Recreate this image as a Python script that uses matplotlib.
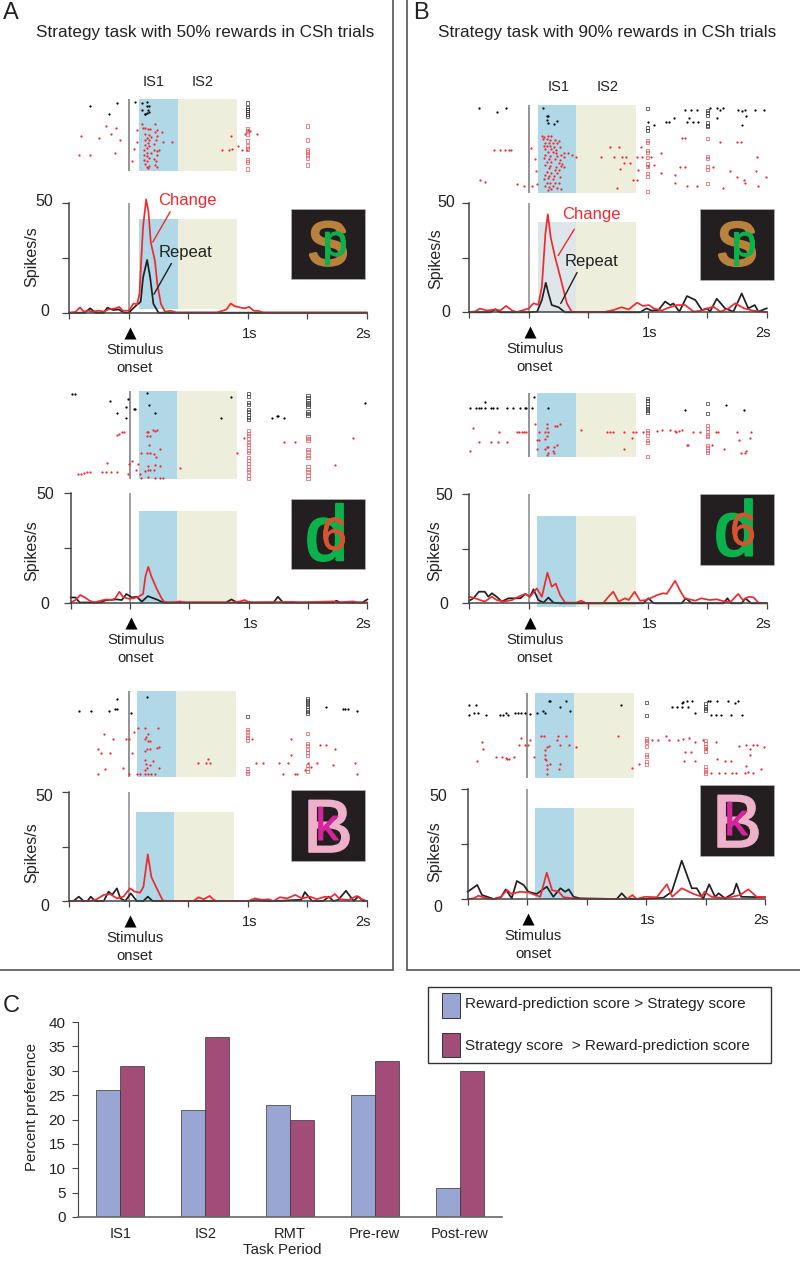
import matplotlib
matplotlib.use('Agg')
import matplotlib.patheffects as pe
import matplotlib.pyplot as plt
import numpy as np
from matplotlib.patches import Rectangle
from matplotlib.transforms import ScaledTranslation

plt.rcParams['font.family'] = ['Liberation Sans', 'DejaVu Sans']

# ---- PSTH curves (time in s, spikes/s)
a1_change = [(-.5,0),(-.45,.3),(-.41,2.4),(-.38,.5),(-.34,.9),(-.31,.5),(-.25,.9),(-.21,.5),(-.17,1.5),(-.11,2),(-.08,2.6),(-.05,.9),(0,.9),(.04,4.2),(.07,3.8),(.09,8.8),(.12,39),(.146,51.5),(.165,46),(.185,32),(.22,23.5),(.24,13),(.27,4),(.305,.4),(.35,.9),(.4,.1),(.74,.1),(.795,1),(.82,1.4),(.857,4.2),(.89,3),(.95,2.2),(.98,2),(1.01,2.7),(1.05,.9),(1.09,.8),(1.13,.1),(2,.1)]
a1_repeat = [(-.5,0),(-.37,0),(-.325,2),(-.28,0),(-.21,0),(-.18,2.3),(-.13,1.2),(-.085,1.5),(-.04,0),(0,0),(.05,2.7),(.1,5),(.12,16),(.154,24),(.18,16),(.207,4),(.25,0),(2,0)]
a2_change = [(-.5,.1),(-.46,1.2),(-.42,3.5),(-.38,2.4),(-.34,.9),(-.3,.1),(-.25,.9),(-.2,1.5),(-.155,1.2),(-.125,2),(-.09,5),(-.06,2.7),(-.014,1.8),(.03,2),(.07,2.7),(.11,4),(.13,12),(.154,16.4),(.18,12),(.224,6.5),(.266,2),(.294,.1),(.364,.1),(.42,.6),(.46,.1),(.87,.1),(.925,.6),(.966,1.2),(.994,.5),(1.03,.1),(1.37,.4),(1.43,.1),(1.71,.6),(1.75,.1),(1.88,.6),(1.92,.1),(2,.1)]
a2_repeat = [(-.5,2.4),(-.46,2.4),(-.425,.1),(-.25,.1),(-.2,1.2),(-.11,1.5),(-.07,1.2),(-.03,4),(.014,2.4),(.056,2.7),(.1,.5),(.15,3),(.224,1.5),(.28,.1),(.81,.1),(.855,1.5),(.9,.1),(1.21,.1),(1.246,2.7),(1.29,.1),(1.71,.1),(1.74,.9),(1.77,.1),(1.96,.1),(2,1.5)]
a3_change = [(-.5,0),(-.325,0),(-.27,.8),(-.21,2.8),(-.157,3.2),(-.1,1.2),(-.045,2),(.01,5.8),(.05,4.3),(.095,3.8),(.123,6.5),(.16,21.4),(.19,11),(.235,5.8),(.286,.2),(.32,0),(.544,0),(.585,1.7),(.63,.8),(.68,2.3),(.714,.5),(.74,0),(1.005,0),(1.06,1.2),(1.12,.5),(1.174,.8),(1.216,0),(1.27,1.7),(1.33,1.2),(1.4,2.8),(1.454,1.2),(1.525,2),(1.58,.8),(1.65,2),(1.69,1.5),(1.733,3.2),(1.775,.8),(1.85,.5),(1.916,2.3),(1.96,.8),(2,0)]
a3_repeat = [(-.5,0),(-.465,0),(-.42,2),(-.38,0),(-.347,0),(-.32,2),(-.283,0),(-.21,0),(-.17,4.3),(-.14,2.8),(-.1,5.8),(-.07,1.2),(-.03,0),(.017,3.5),(.067,0),(.123,0),(.16,2),(.2,0),(1.005,0),(1.08,.4),(1.13,0),(1.24,0),(1.41,.5),(1.45,.5),(1.48,4.1),(1.54,0),(1.636,0),(1.68,2),(1.72,0),(1.76,.5),(1.826,4.7),(1.89,0),(1.93,2),(1.97,0),(2,0)]
b1_change = [(-.5,.1),(-.45,.4),(-.41,1.7),(-.35,.8),(-.28,1.3),(-.24,.8),(-.19,2.9),(-.14,.8),(-.1,.1),(-.045,1),(0,1.8),(.04,4.1),(.08,3.4),(.11,11.7),(.14,36),(.16,44.7),(.185,34),(.22,25.4),(.265,16),(.32,4.1),(.36,.3),(.4,.1),(.63,.1),(.71,1),(.78,2.3),(.84,1.3),(.91,4.4),(.96,2.9),(1.01,3.3),(1.05,1.8),(1.12,.8),(1.16,1.8),(1.245,3.3),(1.315,3.3),(1.385,.3),(1.455,.8),(1.55,2.6),(1.61,.3),(1.68,1.8),(1.735,4.1),(1.81,1.8),(1.88,.8),(1.96,.3),(2,.1)]
b1_repeat = [(-.5,0),(-.325,0),(-.28,1.4),(-.24,0),(0,0),(.07,.3),(.11,5.6),(.143,13.5),(.165,8.7),(.193,3.3),(.25,2.3),(.305,0),(.375,0),(.935,0),(.99,1.8),(1.03,.8),(1.09,1),(1.146,4.9),(1.19,3.3),(1.216,4),(1.266,.3),(1.33,7.4),(1.4,5.6),(1.456,1),(1.5,1.8),(1.524,.3),(1.58,6.2),(1.65,1.8),(1.72,.3),(1.79,8.6),(1.845,1.8),(1.9,3.3),(1.93,.3),(2,1.8)]
b2_change = [(-.5,3),(-.45,2.3),(-.41,1.5),(-.37,.8),(-.31,3),(-.27,1.5),(-.21,.8),(-.14,1.5),(-.087,3),(-.03,4.3),(.01,3),(.067,6.8),(.11,3),(.157,14),(.193,7.6),(.227,9),(.263,3.8),(.305,.3),(.4,.3),(.44,1.2),(.485,0),(.625,0),(.67,3),(.71,5.3),(.755,.8),(.81,2.3),(.84,1.5),(.89,5.3),(.935,1.2),(.99,1.5),(1.08,3.8),(1.13,4.6),(1.16,4.3),(1.23,10.3),(1.27,6),(1.31,2.3),(1.4,1.2),(1.45,2.3),(1.52,1.5),(1.58,1.8),(1.65,.8),(1.7,.8),(1.76,4.3),(1.8,1.5),(1.85,3),(1.89,2.7),(1.93,.3),(2,0)]
b2_repeat = [(-.5,1.2),(-.465,2.3),(-.42,5.3),(-.37,5.3),(-.34,3),(-.31,4.6),(-.27,3),(-.227,.8),(-.17,2.3),(-.115,2.3),(-.07,2.3),(-.03,4.3),(.01,3),(.04,6.4),(.08,1.5),(.123,.3),(.165,2.6),(.207,.3),(.263,0),(.963,0),(1.005,2.3),(1.05,0),(1.285,0),(1.32,2.3),(1.37,0),(1.636,0),(1.67,2.3),(1.7,0),(1.79,0),(1.82,2.3),(1.87,0),(2,0)]
b3_change = [(-.5,0),(-.45,.3),(-.41,1.5),(-.34,.3),(-.28,0),(-.22,1),(-.17,4.1),(-.13,2.3),(-.06,3.3),(.01,3),(.11,1),(.165,12),(.21,4),(.265,3.3),(.305,.8),(.39,.3),(.47,0),(.84,0),(.885,1.8),(.92,0),(.99,1),(1.09,.8),(1.175,6.7),(1.22,1),(1.3,4.9),(1.4,2.3),(1.47,1),(1.49,3.3),(1.55,1),(1.665,.3),(1.79,1.8),(1.86,4.4),(1.93,1),(2,.8)]
b3_repeat = [(-.5,3.3),(-.42,6.4),(-.38,1.8),(-.28,0),(-.22,.8),(-.18,4.4),(-.13,.3),(-.087,8.2),(-.03,6.4),(.01,3.3),(.08,2.3),(.165,5.6),(.22,1),(.28,4.9),(.32,3.3),(.35,4.4),(.39,1),(.445,.3),(.753,0),(.795,2.6),(.84,0),(.978,0),(1.146,.6),(1.216,3.3),(1.3,17.5),(1.384,4.9),(1.426,4.9),(1.48,0),(1.53,6.7),(1.58,1),(1.61,2.6),(1.664,.3),(1.734,2.6),(1.76,7),(1.8,1),(2,.8)]

# ---- raster dots (time in s, trial row)
a1_black = [(-.325,7),(-.095,4),(-.17,15),(.05,3),(.115,4),(.15,3),(.15,7),(.17,7),(.11,11),(.165,11),(.14,15),(.155,14),(.17,13),(.137,15)]
a1_red = [(-.19,27),(-.11,29),(-.15,35),(-.4,37),(-.25,39),(-.07,41),(.07,31),(.11,25),(.22,25),(.07,43),(.04,50),(-.12,54),(-.42,56),(-.33,56),(.03,62),
          (.12,29),(.14,29),(.16,30),(.18,30),(.24,31),(.28,33),(.22,33),(.14,35),(.17,36),(.24,37),(.15,39),(.19,38),(.14,41),(.17,41),(.23,41),(.29,43),(.36,43),(.16,44),(.21,45),(.14,46),(.17,47),(.15,49),(.25,51),(.21,51),(.24,52),(.13,51),(.15,54),(.15,57),(.24,56),(.17,59),(.13,61),(.21,60),(.23,62),(.15,62),(.14,65),(.17,67),(.22,66),(.15,68),(.24,68),(.16,69),(.13,56),(.19,54),
          (.86,37),(.78,51),(.84,51),(.87,50),(.92,47),(.95,51),(.99,51),(1.08,35),(1.02,32),(.98,35),(1.0,31)]
a2_black = [(-.485,3),(-.46,3),(-.17,10),(-.02,8),(-.03,16),(-.11,22),(-.03,27),(.03,18),(.045,18),(.145,2),(.157,14),(.21,22),(.85,6),(.77,27),(1.2,27),(1.24,25),(1.25,25),(1.3,27),(1.98,12)]
a2_red = [(-.11,44),(-.09,43),(-.07,41),(-.05,41),(.14,41),(.154,41),(.19,39),(.21,40),(.23,39),(.14,45),(.17,45),(.16,54),(.09,62),(.14,62),(.17,62),(.2,63),(.25,58),(.22,66),(-.19,72),(.02,70),(-.01,73),(.07,73),(.05,79),(.08,83),(-.02,83),(-.11,81),(-.16,81),(-.2,81),(-.24,81),(-.34,81),(-.36,81),(-.39,82),(-.41,83),(-.44,83),(.09,87),(.154,75),(.154,79),(.13,80),(.17,79),(.21,74),(.2,79),(.25,75),(.154,86),(.21,87),(.25,87),(.28,87),(.42,77),(.9,62),(.96,47),(1.3,51),(1.39,51),(1.88,47),(1.73,74)]
a3_black = [(-.1,8),(-.115,18),(-.095,18),(-.17,20),(-.32,20),(-.42,20),(.02,22),(.157,6),(1.655,16),(1.8,18),(1.82,18),(1.84,18),(1.915,20)]
a3_red = [(-.21,43),(-.135,48),(-.02,48),(.005,48),(.045,41),(.075,37),(.14,37),(.245,37),(-.26,58),(-.23,62),(-.16,62),(.03,62),(-.05,77),(-.2,78),(-.26,83),(.005,83),(.07,83),(.16,43),(.145,46),(.137,48),(.16,50),(.18,50),(.15,58),(.14,60),(.18,58),(.235,57),(.25,56),(.14,69),(.2,70),(.145,73),(.18,74),(.15,77),(.14,79),(.25,77),(.095,83),(.137,83),(.165,83),(.19,83),(.22,83),(.585,72),(.645,72),(.68,72),(.67,68),(1.04,48),(1.365,48),(1.365,64),(1.07,72),(1.13,72),(1.26,72),(1.34,72),(1.507,72),(1.58,72),(1.72,74),(1.9,72),(1.295,83),(1.4,83),(1.41,83),(1.53,76),(1.48,79),(1.92,83),(1.61,54),(1.66,54),(1.735,58)]
b1_black = [(-.42,3),(-.27,7),(-.19,3),(.12,3),(.15,11),(.165,11),(.15,15),(.165,18),(.21,19),(.24,16),(1.31,5),(1.36,5),(1.41,5),(1.58,3),(1.61,5),(1.635,3),(1.76,5),(1.79,6),(1.82,5),(1.9,5),(1.98,5),(1.22,13),(1.35,13),(1.58,13),(1.83,11),(1.0,17),(1.05,20),(1.15,17),(1.175,17),(1.33,17),(1.38,17),(1.42,17),(1.79,20),(1.52,3)]
b1_red = [(-.29,45),(-.24,45),(-.2,45),(-.17,45),(-.15,45),(-.41,75),(-.37,77),(-.1,79),(-.04,81),(.02,43),(.05,54),(.06,66),(.03,81),(.07,79),(1.29,33),(1.31,33),(1.61,37),(1.75,37),(1.78,37),(.68,42),(.76,42),(.94,42),(.4,52),(.61,52),(.72,52),(.78,52),(.82,52),(.91,52),(.95,52),(.8,58),(.85,58),(.77,64),(.92,65),(1.0,61),(1.05,60),(1.11,48),(1.03,52),(1.92,52),(1.27,62),(1.31,62),(1.55,62),(1.69,66),(1.91,66),(1.11,68),(1.23,70),(1.75,72),(1.81,75),(1.99,72),(.88,75),(.91,75),(.74,83),(1.23,78),(1.33,81),(1.41,81),(1.63,83),(1.93,81),(1.82,78),
          (.11,31),(.13,32),(.16,31),(.19,31),(.12,34),(.15,34),(.18,35),(.22,35),(.25,36),(.14,38),(.17,38),(.2,38),(.24,38),(.13,41),(.15,41),(.18,41),(.21,42),(.26,42),(.14,44),(.19,44),(.23,45),(.3,48),(.33,48),(.36,50),(.16,47),(.2,47),(.23,48),(.27,50),(.14,50),(.18,51),(.24,51),(.3,52),(.13,53),(.17,54),(.22,54),(.26,55),(.15,57),(.19,57),(.25,58),(.28,59),(.14,60),(.18,61),(.23,62),(.27,61),(.3,62),(.17,63),(.22,65),(.25,65),(.15,67),(.19,68),(.24,68),(.14,70),(.17,71),(.21,71),(.26,72),(.13,74),(.16,73),(.2,74),(.15,78),(.18,78),(.22,78),(.25,78),(.14,81),(.17,82),(.2,81),(.24,83),(.27,84),(.16,85),(.19,84)]
b2_black = [(.045,4),(-.37,9),(-.49,15),(-.44,15),(-.42,15),(-.4,15),(-.37,15),(-.32,15),(-.3,15),(-.27,15),(-.18,15),(-.13,15),(-.07,15),(-.03,15),(-.02,15),(.025,15),(.16,15),(1.31,17),(1.66,12),(1.81,17)]
b2_red = [(-.47,35),(-.25,39),(-.1,39),(-.08,39),(-.06,39),(-.04,39),(-.02,39),(.05,31),(.07,47),(.09,47),(.07,56),(-.42,49),(-.32,49),(-.26,49),(-.18,49),(-.49,58),
          (.15,31),(.22,33),(.24,33),(.26,31),(.09,39),(.14,39),(.165,39),(.15,35),(.15,43),(.14,46),(.15,54),(.165,54),(.21,54),(.14,56),(.2,58),(.21,60),(.165,60),(.15,62),(.24,52),
          (.44,37),(.66,39),(.68,39),(.71,39),(.8,39),(.88,39),(.9,39),(.87,45),(.8,56),(.96,39),(1.08,38),(1.12,37),(1.19,37),(1.23,38),(1.26,38),(1.29,37),(1.24,39),(1.38,39),(1.44,39),(1.57,39),(1.59,39),(1.75,39),(1.87,39),(1.86,45),(1.77,47),(1.33,52),(1.34,52),(1.54,52),(1.64,56),(1.78,60),(1.82,60),(1.83,58)]
b3_black = [(-.49,12),(-.43,12),(-.49,22),(-.45,20),(-.41,20),(-.35,22),(-.23,22),(-.2,22),(-.18,20),(-.16,22),(-.1,20),(-.08,20),(-.05,20),(-.02,20),(.02,21),(.08,20),(.13,18),(.15,20),(.18,8),(.19,8),(.33,8),(.28,14),(.36,18),(.79,12),(1.31,9),(1.3,10),(1.34,8),(1.39,8),(1.22,14),(1.26,14),(1.3,14),(1.35,14),(1.41,20),(1.52,8),(1.54,8),(1.6,8),(1.69,8),(1.75,10),(1.77,8),(1.55,22),(1.59,22),(1.63,22),(1.71,22),(1.81,22)]
b3_red = [(-.38,49),(-.37,56),(-.42,68),(-.26,64),(-.21,64),(-.18,65),(-.17,66),(-.15,66),(-.11,64),(-.05,45),(-.07,52),(-.02,52),(.02,47),(.01,52),(.06,64),(.12,43),(.14,43),(.26,43),(.25,47),(.28,52),(.33,43),(.35,52),(.41,54),(.18,53),(.17,54),(.15,57),(.15,62),(.15,66),(.16,67),(.19,71),(.17,72),(.28,71),(.27,76),(.17,76),(.17,81),(.76,43),(.88,75),(.94,71),(1.05,47),(1.1,47),(1.17,43),(1.19,47),(1.27,47),(1.31,46),(1.36,45),(1.41,49),(1.33,59),(1.38,59),(1.32,68),(1.41,68),(1.48,47),(1.59,49),(1.5,56),(1.6,66),(1.66,68),(1.71,68),(1.78,53),(1.84,52),(1.87,56),(1.9,52),(1.93,52),(1.99,54),(1.87,62),(1.84,73),(1.97,76),(1.55,80),(1.61,80),(1.66,80),(1.72,80),(1.76,80),(1.83,80),(1.86,79),(1.9,80)]

# ---- square event marks: trial rows at 1 s and 1.5 s
a1_sq = dict(k1=[4,9,11,13,15,17], k15=[], r1=[30,32,35,42,47,50,61,63,70], r15=[27,41,51,53,56,59,66])
a2_sq = dict(k1=[3,6,12,14,19,21,24,27,29], k15=[5,7,10,12,14,16,21,23,25], r1=[40,43,45,48,52,54,57,60,62,67,70,73,76,79,81,85,88], r15=[46,48,50,59,61,65,67,76,79,81,85,88])
a3_sq = dict(k1=[26], k15=[8,10,12,14,16,19,21,23], r1=[39,41,45,47,50,78,81,83], r15=[43,53,55,59,62,65,75,78,81])
b1_sq = dict(k1=[3,22,25], k15=[5,7,10,17,20,21], r1=[35,37,45,47,52,58,61,68,71,86], r15=[33,51,53,61,64,78])
b2_sq = dict(k1=[5,7,10,13,15,17,19], k15=[10,20], r1=[37,39,42,47,49,63], r15=[32,35,38,42,43,52,54,57,59])
b3_sq = dict(k1=[9,22], k15=[10,13,15,17], r1=[45,47,49,53,61,63,68,71], r15=[47,50,53,55,58,73,76,78,80])

# ---- bar chart
periods = ['IS1', 'IS2', 'RMT', 'Pre-rew', 'Post-rew']
reward_gt_strategy = [26, 22, 23, 25, 6]
strategy_gt_reward = [31, 37, 20, 32, 30]

RED = '#ee2a30'
BLACK = '#231f20'
BLUE = '#b1d8e6'
BEIGE = '#eeeedd'
AXC = '#444444'
TXT = '#222222'

W, H = 800, 1262
fig = plt.figure(figsize=(W / 100, H / 100), dpi=100)


def px_axes(left, top, right, bottom, **kw):
    return fig.add_axes([left / W, 1 - bottom / H, (right - left) / W, (bottom - top) / H], **kw)


def nudge(label, dx, dy):
    # dx, dy in pixels, dy down
    label.set_transform(label.get_transform() + ScaledTranslation(dx / 100, -dy / 100, fig.dpi_scale_trans))


over = fig.add_axes([0, 0, 1, 1], zorder=10)
over.set_xlim(0, W)
over.set_ylim(H, 0)
over.axis('off')
over.patch.set_alpha(0)

# x at -0.5 s / 2 s, y at 50 / 0, raster top/bottom, raster and psth shading times,
# psth shade top/bottom rate, inset corner, offsets of the 50 and 0 labels, Spikes/s centre
panels = [
    dict(x=(69.3, 366.7), y=(202.7, 312.7), ras=(99, 170.7), rt=(.087, .415, .91), pt=(.087, .412, .91), pr=(42.7, 1.5),
         ins=(291, 208.7), kind=0, lab=(-1, -3, -5, -3), sp=(32, 257), change=a1_change, repeat=a1_repeat, black=a1_black, red=a1_red, sq=a1_sq),
    dict(x=(70.7, 367.3), y=(493.3, 602.7), ras=(390.7, 479.3), rt=(.076, .4, .9), pt=(.076, .4, .9), pr=(41.9, 0),
         ins=(291, 498.7), kind=1, lab=(-1, 0, -6, 0), sp=(32, 551), change=a2_change, repeat=a2_repeat, black=a2_black, red=a2_red, sq=a2_sq),
    dict(x=(69.3, 366.7), y=(792, 901), ras=(690.7, 776.7), rt=(.072, .395, .9), pt=(.059, .383, .885), pr=(40.8, 0),
         ins=(291, 790), kind=2, lab=(-1, 3, -5, 4), sp=(32, 853), change=a3_change, repeat=a3_repeat, black=a3_black, red=a3_red, sq=a3_sq),
    dict(x=(469.3, 766.7), y=(202.7, 312.3), ras=(105.3, 192.7), rt=(.08, .4, .905), pt=(.08, .4, .905), pr=(41, 0),
         ins=(700, 209), kind=0, lab=(1, -2, -4, -1), sp=(436, 259), change=b1_change, repeat=b1_repeat, black=b1_black, red=b1_red, sq=b1_sq, pale=True),
    dict(x=(469.3, 766.7), y=(494, 603.3), ras=(393.3, 456.7), rt=(.072, .395, .9), pt=(.072, .395, .9), pr=(40, -1.5),
         ins=(700, 494), kind=1, lab=(-1, 0, -6, 0), sp=(435, 551), change=b2_change, repeat=b2_repeat, black=b2_black, red=b2_red, sq=b2_sq),
    dict(x=(467.7, 765), y=(789.3, 899), ras=(693.3, 778.3), rt=(.07, .397, .9), pt=(.07, .397, .9), pr=(41.5, 0),
         ins=(700, 785), kind=2, lab=(-5, 6, -10, 7), sp=(435, 852), change=b3_change, repeat=b3_repeat, black=b3_black, red=b3_red, sq=b3_sq),
]

# letter, size, offset in the inset, colour, extra stroke
inset_letters = [
    [('S', 44, 37, 56, '#b9823c', 2.2), ('p', 32, 44, 47, '#0bb14a', .8)],
    [('d', 56, 35.5, 61.5, '#0bb14a', 1.5), ('6', 33, 43, 51, '#d4552d', .6)],
    [('B', 54, 37, 62, '#efb1c9', 1.2), ('k', 32.5, 36, 50, '#d4259a', .8)],
]


def draw_panel(p):
    x0, x2 = p['x']
    y50, y0 = p['y']
    top, bottom = p['ras']

    # raster
    ras = px_axes(x0, top, x2, bottom)
    ras.set_xlim(-.5, 2)
    ras.set_ylim(bottom - top, 0)
    ras.axis('off')
    t1, t2, t3 = p['rt']
    ras.axvspan(t1, t2, color=BLUE, lw=0)
    ras.axvspan(t2, t3, color=BEIGE, lw=0)
    ras.axvline(0, color='#777777', lw=1.1)
    for pts, col in ((p['black'], 'black'), (p['red'], RED)):
        xy = np.array(pts)
        ras.scatter(xy[:, 0], xy[:, 1], s=2.6, color=col, lw=0, clip_on=False, zorder=3)
    sq = p['sq']
    for key, t, col in (('k1', 1, '#333333'), ('k15', 1.5, '#333333'), ('r1', 1, '#e8555a'), ('r15', 1.5, '#e8555a')):
        rows = sq[key]
        if rows:
            ras.scatter([t] * len(rows), rows, s=5, marker='s', facecolors='none', edgecolors=col, lw=.5,
                        clip_on=False, zorder=3)

    # psth
    ax = px_axes(x0, y50, x2, y0)
    ax.patch.set_alpha(0)
    ax.set_xlim(-.5, 2)
    ax.set_ylim(0, 50)
    t1, t2, t3 = p['pt']
    rtop, rbot = p['pr']
    ax.fill_betweenx([rbot, rtop], t1, t2, color='#dfe6ea' if p.get('pale') else BLUE, lw=0, clip_on=False)
    ax.fill_betweenx([rbot, rtop], t2, t3, color=BEIGE, lw=0, clip_on=False)
    ax.axvline(0, color='#888888', lw=1.1)
    xy = np.array(p['repeat'])
    ax.plot(xy[:, 0], xy[:, 1], color=BLACK, lw=1.25, clip_on=False, solid_joinstyle='round')
    xy = np.array(p['change'])
    ax.plot(xy[:, 0], xy[:, 1], color=RED, lw=1.25, clip_on=False, solid_joinstyle='round')
    for s in ('top', 'right'):
        ax.spines[s].set_visible(False)
    for s in ('left', 'bottom'):
        ax.spines[s].set_color(AXC)
        ax.spines[s].set_linewidth(1.1)
    ax.set_xticks([-.5, 0, .5, 1, 1.5, 2], ['', '', '', '1s', '', '2s'], fontsize=10.5, color=TXT)
    ax.set_yticks([0, 25, 50], ['0', '', '50'], fontsize=11.5, color=TXT)
    ax.tick_params(axis='x', length=4, width=.9, color=AXC, pad=6)
    ax.tick_params(axis='y', length=5, width=.9, color=AXC, pad=6)
    xl = ax.get_xticklabels()
    nudge(xl[3], 2, 0)
    nudge(xl[5], -4, 0)
    yl = ax.get_yticklabels()
    nudge(yl[2], p['lab'][0], p['lab'][1])
    nudge(yl[0], p['lab'][2], p['lab'][3])

    x_on = x0 + (x2 - x0) * .2
    over.text(p['sp'][0], p['sp'][1], 'Spikes/s', rotation=90, ha='center', va='center', fontsize=11.5, color=TXT)
    over.scatter([x_on + 1], [y0 + 20], marker='^', s=75, color='black', lw=0)
    over.text(x_on + 6, y0 + 37, 'Stimulus', ha='center', va='center', fontsize=10.7, color=TXT)
    over.text(x_on + 6, y0 + 55, 'onset', ha='center', va='center', fontsize=10.7, color=TXT)

    # stimulus pair
    ix, iy = p['ins']
    over.add_patch(Rectangle((ix, iy), 74, 70.5, fc=BLACK, ec='#bbbbbb', lw=.4))
    for ch, size, dx, dy, col, extra in inset_letters[p['kind']]:
        t = over.text(ix + dx, iy + dy, ch, fontsize=size, color=col, ha='center', va='baseline')
        t.set_path_effects([pe.withStroke(linewidth=extra, foreground=col)])
    return ax


axes = [draw_panel(p) for p in panels]

# labelled curves in the top row
axes[0].annotate('', xy=(.19, 31), xytext=(.36, 47), arrowprops=dict(arrowstyle='-', color=RED, lw=1))
axes[0].annotate('', xy=(.2, 7.3), xytext=(.37, 23.5), arrowprops=dict(arrowstyle='-', color=BLACK, lw=1))
axes[3].annotate('', xy=(.235, 24.8), xytext=(.395, 39), arrowprops=dict(arrowstyle='-', color=RED, lw=1))
axes[3].annotate('', xy=(.258, 2.9), xytext=(.417, 19.3), arrowprops=dict(arrowstyle='-', color=BLACK, lw=1))
over.text(187, 200.5, 'Change', color=RED, fontsize=12, ha='center', va='center')
over.text(186, 252.5, 'Repeat', color=TXT, fontsize=12, ha='center', va='center')
over.text(591.7, 215, 'Change', color=RED, fontsize=12, ha='center', va='center')
over.text(591.7, 261.5, 'Repeat', color=TXT, fontsize=12, ha='center', va='center')

# panel frames and headings
over.plot([393, 393, 0], [0, 969.5, 969.5], color='#555555', lw=1.2, solid_joinstyle='miter')
over.plot([406.5, 406.5, 800], [0, 969.5, 969.5], color='#555555', lw=1.2, solid_joinstyle='miter')
over.text(3, 13, 'A', fontsize=17, ha='left', va='center', color=TXT)
over.text(413, 13, 'B', fontsize=17, ha='left', va='center', color=TXT)
over.text(3, 1006, 'C', fontsize=17, ha='left', va='center', color=TXT)
over.text(205.5, 33, 'Strategy task with 50% rewards in CSh trials', fontsize=12.3, ha='center', va='center', color=TXT)
over.text(607.5, 33, 'Strategy task with 90% rewards in CSh trials', fontsize=12.3, ha='center', va='center', color=TXT)
for x, y, s in ((154, 82, 'IS1'), (203, 82, 'IS2'), (559, 87, 'IS1'), (608, 87, 'IS2')):
    over.text(x, y, s, fontsize=10.5, ha='center', va='center', color=TXT)

# bar chart
BAR1 = '#99a5d3'
BAR2 = '#a14d78'
bx = px_axes(78, 1022, 502, 1217)
pos = np.arange(len(periods))
bw = .283
bx.bar(pos - bw / 2, reward_gt_strategy, bw, color=BAR1, edgecolor='#333333', lw=.5)
bx.bar(pos + bw / 2, strategy_gt_reward, bw, color=BAR2, edgecolor='#333333', lw=.5)
bx.set_xlim(-.5, 4.5)
bx.set_ylim(0, 40)
bx.set_yticks(range(0, 41, 5))
bx.set_xticks(pos, periods, fontsize=10.5, color=TXT)
bx.tick_params(axis='x', length=0, pad=7)
bx.tick_params(axis='y', length=4, width=.8, color=AXC, labelsize=11, labelcolor=TXT, pad=5)
for s in ('top', 'right'):
    bx.spines[s].set_visible(False)
bx.spines['left'].set_color(AXC)
bx.spines['bottom'].set_color('#666666')
bx.spines['bottom'].set_linewidth(1.2)
over.text(32, 1107, 'Percent preference', rotation=90, ha='center', va='center', fontsize=10.8, color=TXT)
over.text(282, 1250, 'Task Period', ha='center', va='center', fontsize=10.8, color=TXT)

# legend
over.add_patch(Rectangle((428, 987), 343, 76, fc='white', ec='#333333', lw=1))
over.add_patch(Rectangle((442, 993), 18, 25, fc=BAR1, ec='#333333', lw=.7))
over.add_patch(Rectangle((442, 1033), 18, 24, fc=BAR2, ec='#333333', lw=.7))
over.text(465, 1004, 'Reward-prediction score > Strategy score', fontsize=11, va='center', color=TXT)
over.text(465, 1046, 'Strategy score  > Reward-prediction score', fontsize=11, va='center', color=TXT)

fig.savefig('out.png', dpi=100)
